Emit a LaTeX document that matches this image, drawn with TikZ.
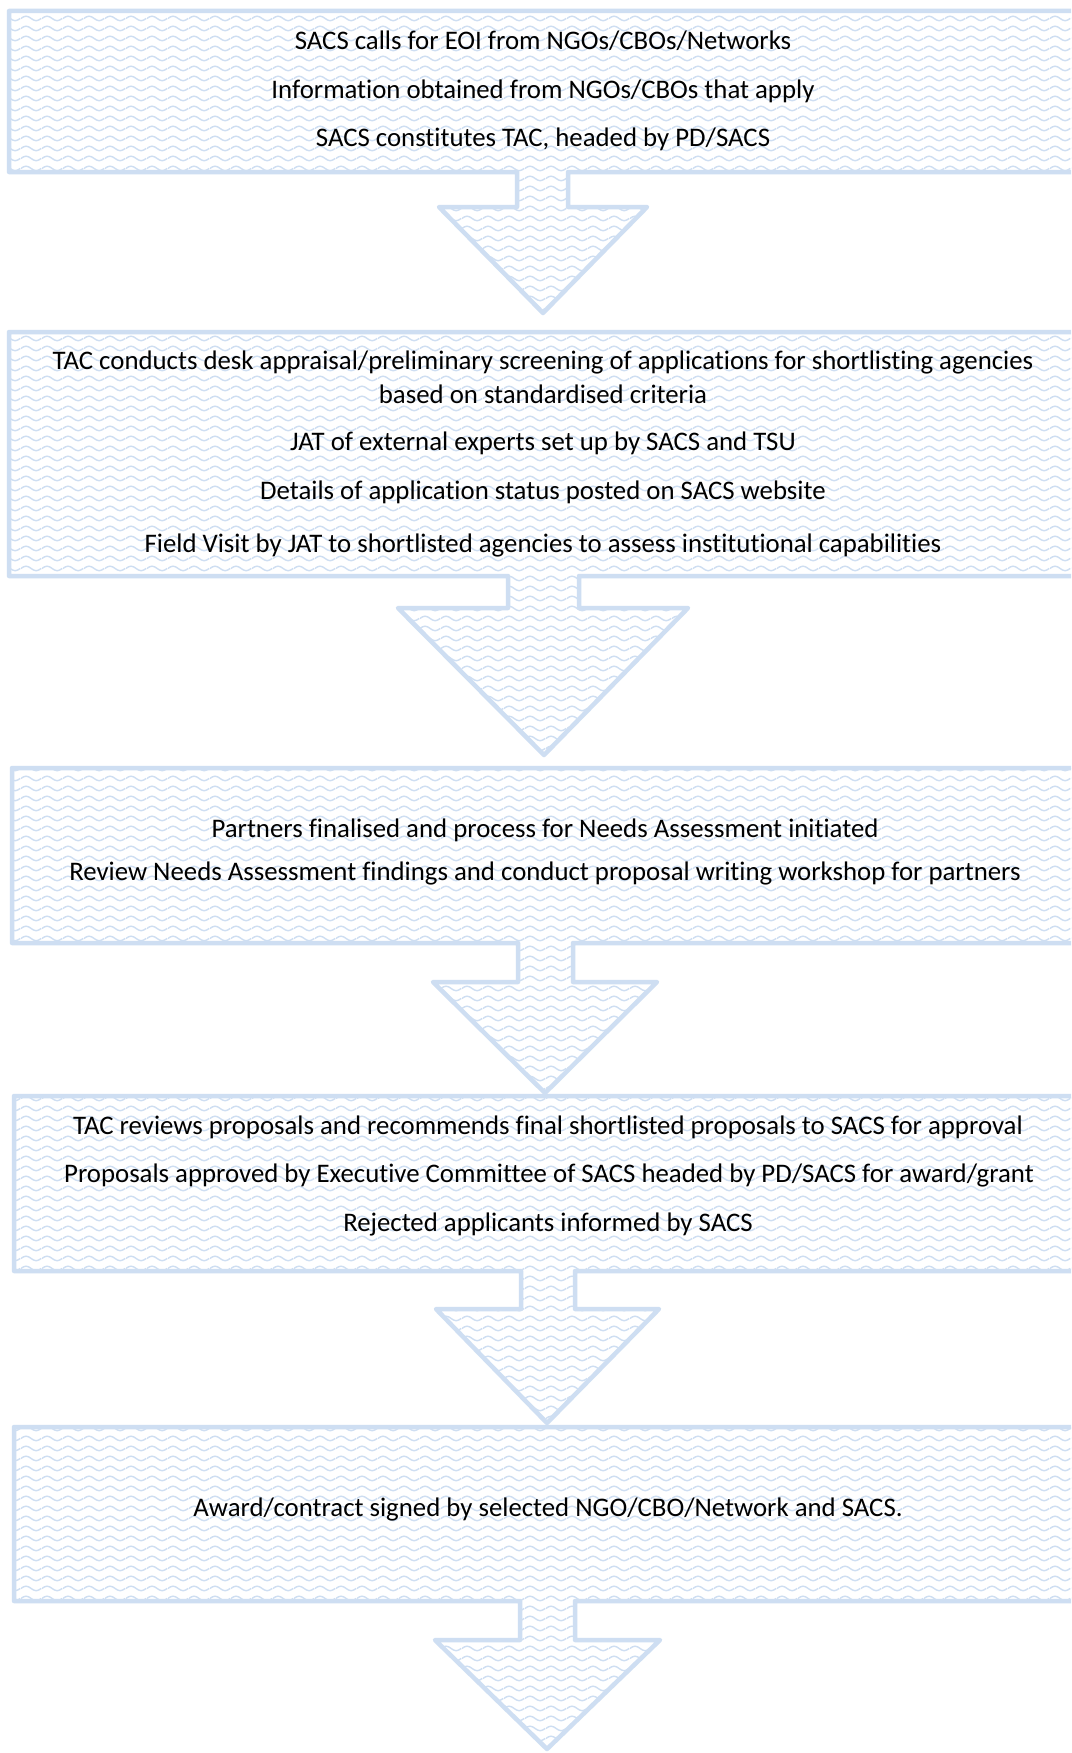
\documentclass[tikz,border=0pt]{standalone}
\usepackage{fontspec}
\setmainfont{Carlito}[Ligatures=NoCommon]
\usetikzlibrary{patterns}
\definecolor{boxblue}{RGB}{206,222,242}
\pgfdeclarepatternformonly{wavy}{\pgfqpoint{0pt}{0pt}}{\pgfqpoint{20.6pt}{10pt}}{\pgfqpoint{20.6pt}{10pt}}{%
  \pgfsetlinewidth{1.5pt}%
  \pgfpathmoveto{\pgfqpoint{0pt}{5pt}}%
  \pgfpathsine{\pgfqpoint{5.15pt}{2.5pt}}%
  \pgfpathcosine{\pgfqpoint{5.15pt}{-2.5pt}}%
  \pgfpathsine{\pgfqpoint{5.15pt}{-2.5pt}}%
  \pgfpathcosine{\pgfqpoint{5.15pt}{2.5pt}}%
  \pgfusepath{stroke}%
}
\tikzset{
  flowbox/.style={draw=boxblue, line width=4.5pt, line join=round, pattern=wavy, pattern color=boxblue},
  txt/.style={anchor=base, inner sep=0pt, text=black, font=\fontsize{26.8}{32}\selectfont}
}
\begin{document}
\begin{tikzpicture}[x=1pt,y=-1pt]
\clip (0,0) rectangle (1071,1753);
\fill[white] (0,0) rectangle (1071,1753);
% box 1
\draw[flowbox] (9,11) -- (1090,11) -- (1090,172) -- (568,172) -- (568,207) -- (647,207) -- (543,313) -- (439,207) -- (517,207) -- (517,172) -- (9,172) -- cycle;
% box 2
\draw[flowbox] (9,332) -- (1090,332) -- (1090,576) -- (579,576) -- (579,608) -- (688,608) -- (544,755) -- (398,608) -- (508,608) -- (508,576) -- (9,576) -- cycle;
% box 3
\draw[flowbox] (12,768) -- (1090,768) -- (1090,943) -- (573,943) -- (573,982) -- (657,982) -- (545,1093) -- (433,982) -- (518,982) -- (518,943) -- (12,943) -- cycle;
% box 4
\draw[flowbox] (14,1096) -- (1090,1096) -- (1090,1271) -- (575,1271) -- (575,1309) -- (659,1309) -- (547,1423) -- (436,1309) -- (521,1309) -- (521,1271) -- (14,1271) -- cycle;
% box 5
\draw[flowbox] (14,1427) -- (1090,1427) -- (1090,1601) -- (575,1601) -- (575,1640) -- (660,1640) -- (547,1749) -- (435,1640) -- (520,1640) -- (520,1601) -- (14,1601) -- cycle;

\node[txt] (a1) at (543,50) {SACS calls for EOI from NGOs/CBOs/Networks};
\node[txt] (a2) at (543,98.2) {Information obtained from NGOs/CBOs that apply};
\node[txt] (a3) at (543,146.5) {SACS constitutes TAC, headed by PD/SACS};

\node[txt] (b1) at (543,369.8) {TAC conducts desk appraisal/preliminary screening of applications for shortlisting agencies};
\node[txt] (b2) at (543,403.2) {based on standardised criteria};
\node[txt] (b3) at (543,450.5) {JAT of external experts set up by SACS and TSU};
\node[txt] (b4) at (543,499.5) {Details of application status posted on SACS website};
\node[txt] (b5) at (543,552.1) {Field Visit by JAT to shortlisted agencies to assess institutional capabilities};

\node[txt] (c1) at (545,837) {Partners finalised and process for Needs Assessment initiated};
\node[txt] (c2) at (545,880.8) {Review Needs Assessment findings and conduct proposal writing workshop for partners};

\node[txt] (d1) at (548,1134.8) {TAC reviews proposals and recommends final shortlisted proposals to SACS for approval};
\node[txt] (d2) at (549,1182.5) {Proposals approved by Executive Committee of SACS headed by PD/SACS for award/grant};
\node[txt] (d3) at (548,1231.8) {Rejected applicants informed by SACS};

\node[txt] (e1) at (548,1516) {Award/contract signed by selected NGO/CBO/Network and SACS.};
\end{tikzpicture}
\end{document}
